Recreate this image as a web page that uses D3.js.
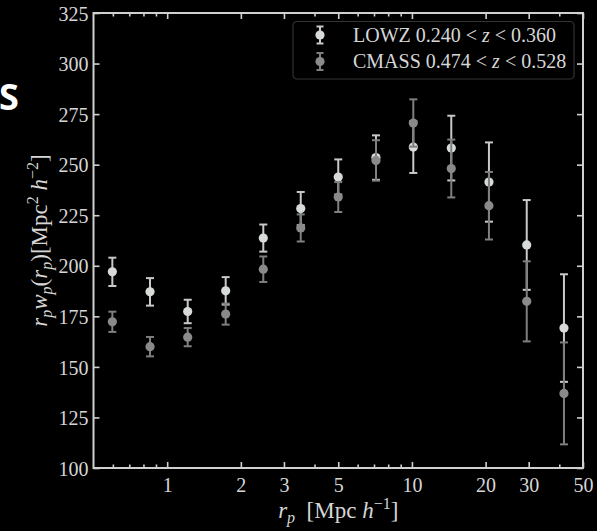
<!DOCTYPE html>
<html>
<head>
<meta charset="utf-8">
<script src="https://cdn.jsdelivr.net/npm/d3@7"></script>
<style>
  html, body { margin: 0; padding: 0; background: #000; }
  svg { display: block; }
  .tick-label { font-family: "Liberation Serif", serif; font-size: 20px; fill: #d6d6d6; }
</style>
</head>
<body>
<div id="chart"></div>
<script>
// separation bins [Mpc/h]
const rp = [0.597, 0.851, 1.213, 1.734, 2.47, 3.513, 5.0, 7.13, 10.13, 14.48, 20.64, 29.45, 41.8];

// r_p * w_p(r_p) for each sample, with 1-sigma errors
const lowzW   = [197.0, 187.1, 177.4, 187.6, 213.7, 228.3, 243.9, 253.5, 258.7, 258.2, 241.4, 210.3, 169.2];
const lowzErr = [7.0, 6.8, 5.8, 6.8, 6.7, 8.2, 8.7, 11.0, 12.8, 16.0, 19.6, 22.2, 26.6];
const cmassW   = [172.3, 160.0, 164.7, 176.1, 198.3, 218.7, 234.0, 252.1, 270.6, 248.1, 229.7, 182.4, 136.9];
const cmassErr = [5.0, 4.8, 4.5, 5.2, 6.3, 6.7, 7.4, 10.0, 11.7, 14.3, 16.7, 19.8, 25.2];

const yTicks = [100, 125, 150, 175, 200, 225, 250, 275, 300, 325];
const xTicks = [1, 2, 3, 5, 10, 20, 30, 50];
const xMinor = [0.6, 0.7, 0.8, 0.9, 4, 6, 7, 8, 9, 40];

const W = 597, H = 531;
const margin = {top: 13, right: 14, bottom: 63, left: 93.5};
const width = W - margin.left - margin.right,
      height = H - margin.top - margin.bottom;

const svg = d3.select("#chart").append("svg")
    .attr("width", W)
    .attr("height", H);

// stray slide text at the left edge
svg.append("text")
    .attr("x", -1).attr("y", 110)
    .style("font-family", "'Open Sans', sans-serif")
    .style("font-weight", "bold")
    .style("font-size", "36px")
    .style("fill", "#fff")
    .text("S");

const g = svg.append("g")
    .attr("transform", "translate(" + margin.left + "," + margin.top + ")");

const x = d3.scaleLog().domain([0.5, 50]).range([0, width]);
const y = d3.scaleLinear().domain([100, 325]).range([height, 0]);

const axisColor = "#d0d0d0";

// inward ticks on all four sides
function styleAxis(sel) {
    sel.select(".domain").remove();
    sel.selectAll(".tick line").attr("stroke", axisColor).attr("stroke-width", 1.6);
}
g.append("g").attr("transform", "translate(0," + height + ")")
    .call(d3.axisBottom(x).tickValues(xTicks).tickSize(-6).tickPadding(10).tickFormat(d3.format("d")))
    .call(styleAxis)
    .call(s => s.selectAll("text").attr("class", "tick-label").attr("fill", null));
g.append("g").attr("transform", "translate(0," + height + ")")
    .call(d3.axisBottom(x).tickValues(xMinor).tickSize(-3.5).tickFormat(""))
    .call(styleAxis);
g.append("g")
    .call(d3.axisTop(x).tickValues(xTicks).tickSize(-6).tickFormat(""))
    .call(styleAxis);
g.append("g")
    .call(d3.axisTop(x).tickValues(xMinor).tickSize(-3.5).tickFormat(""))
    .call(styleAxis);
g.append("g")
    .call(d3.axisLeft(y).tickValues(yTicks).tickSize(-6).tickPadding(5))
    .call(styleAxis)
    .call(s => s.selectAll("text").attr("class", "tick-label").attr("fill", null).attr("dy", "0.36em"));
g.append("g").attr("transform", "translate(" + width + ",0)")
    .call(d3.axisRight(y).tickValues(yTicks).tickSize(-6).tickFormat(""))
    .call(styleAxis);

// frame
g.append("rect")
    .attr("width", width).attr("height", height)
    .attr("fill", "none")
    .attr("stroke", axisColor)
    .attr("stroke-width", 2);

// error bar series
function drawSeries(vals, errs, color, barColor) {
    const data = rp.map((r, i) => ({r: r, v: vals[i], e: errs[i]}));
    const s = g.append("g");
    const cap = 4;
    s.selectAll(".bar").data(data).enter().append("line")
        .attr("x1", d => x(d.r)).attr("x2", d => x(d.r))
        .attr("y1", d => y(d.v - d.e)).attr("y2", d => y(d.v + d.e))
        .attr("stroke", barColor).attr("stroke-width", 2);
    [-1, 1].forEach(sgn => {
        s.selectAll(".cap" + sgn).data(data).enter().append("line")
            .attr("x1", d => x(d.r) - cap).attr("x2", d => x(d.r) + cap)
            .attr("y1", d => y(d.v + sgn * d.e)).attr("y2", d => y(d.v + sgn * d.e))
            .attr("stroke", barColor).attr("stroke-width", 2);
    });
    s.selectAll("circle").data(data).enter().append("circle")
        .attr("cx", d => x(d.r)).attr("cy", d => y(d.v))
        .attr("r", 4.6)
        .attr("fill", color);
}
const lowzColor = "#d7dbd7", lowzBar = "#c9c9c9";
const cmassColor = "#8a8a8a", cmassBar = "#7f7f7f";
drawSeries(lowzW, lowzErr, lowzColor, lowzBar);
drawSeries(cmassW, cmassErr, cmassColor, cmassBar);

// legend
const leg = svg.append("g").attr("transform", "translate(293,21.5)");
leg.append("rect")
    .attr("width", 281).attr("height", 57.5).attr("rx", 4)
    .attr("fill", "#000").attr("stroke", "#333").attr("stroke-width", 1.2);
const legItems = [
    {name: "LOWZ", lo: "0.240", hi: "0.360", color: lowzColor, bar: lowzBar},
    {name: "CMASS", lo: "0.474", hi: "0.528", color: cmassColor, bar: cmassBar}
];
legItems.forEach((it, i) => {
    const cy = 13.5 + i * 26.5;
    leg.append("line").attr("x1", 27).attr("x2", 27).attr("y1", cy - 8.5).attr("y2", cy + 8.5)
        .attr("stroke", it.bar).attr("stroke-width", 2);
    [-8.5, 8.5].forEach(o => leg.append("line").attr("x1", 23.5).attr("x2", 30.5)
        .attr("y1", cy + o).attr("y2", cy + o).attr("stroke", it.bar).attr("stroke-width", 2));
    leg.append("circle").attr("cx", 27).attr("cy", cy).attr("r", 4.6).attr("fill", it.color);
    const t = leg.append("text").attr("x", 60).attr("y", cy + 6.5)
        .attr("class", "tick-label").attr("xml:space", "preserve");
    t.append("tspan").text(it.name + " " + it.lo + " < ");
    t.append("tspan").style("font-style", "italic").text("z");
    t.append("tspan").text(" < " + it.hi);
});

// axis labels
const labelStyle = s => s.attr("class", "tick-label").style("font-size", "23px");
const xl = svg.append("text")
    .attr("x", margin.left + width / 2).attr("y", 518)
    .attr("text-anchor", "middle").attr("xml:space", "preserve").call(labelStyle);
xl.append("tspan").style("font-style", "italic").text("r");
xl.append("tspan").attr("dy", 5).style("font-size", "16px").style("font-style", "italic").text("p");
xl.append("tspan").attr("dy", -5).text("  [Mpc ");
xl.append("tspan").style("font-style", "italic").text("h");
xl.append("tspan").attr("dy", -9).style("font-size", "16px").text("−1");
xl.append("tspan").attr("dy", 9).text("]");

const yl = svg.append("text")
    .attr("transform", "translate(47," + (margin.top + height / 2) + ") rotate(-90)")
    .attr("text-anchor", "middle").call(labelStyle);
yl.append("tspan").style("font-style", "italic").text("r");
yl.append("tspan").attr("dy", 5).style("font-size", "16px").style("font-style", "italic").text("p");
yl.append("tspan").attr("dy", -5).style("font-style", "italic").text("w");
yl.append("tspan").attr("dy", 5).style("font-size", "16px").style("font-style", "italic").text("p");
yl.append("tspan").attr("dy", -5).text("(");
yl.append("tspan").style("font-style", "italic").text("r");
yl.append("tspan").attr("dy", 5).style("font-size", "16px").style("font-style", "italic").text("p");
yl.append("tspan").attr("dy", -5).text(")[Mpc");
yl.append("tspan").attr("dy", -9).style("font-size", "16px").text("2");
yl.append("tspan").attr("dy", 9).text(" ");
yl.append("tspan").style("font-style", "italic").text("h");
yl.append("tspan").attr("dy", -9).style("font-size", "16px").text("−2");
yl.append("tspan").attr("dy", 9).text("]");
</script>
</body>
</html>
